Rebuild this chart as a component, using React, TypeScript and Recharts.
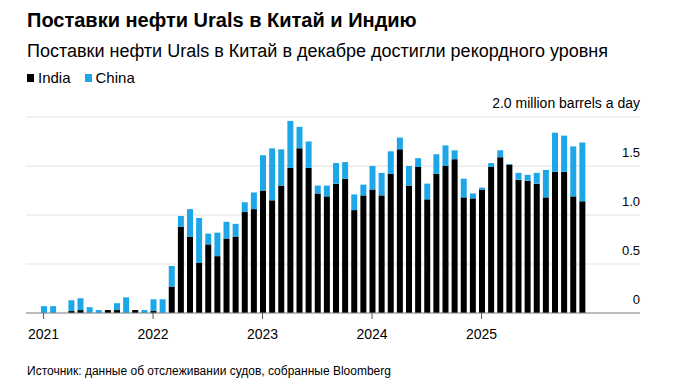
import { BarChart, Bar, XAxis, YAxis, CartesianGrid } from "recharts";

const months = [2021, 2022, 2023, 2024, 2025].flatMap((y) =>
  Array.from({ length: 12 }, (_, m) => `${y}-${String(m + 1).padStart(2, "0")}`)
);

// million barrels a day
const india = [
  0, 0, 0, 0.02, 0.03, 0, 0, 0.03, 0.03, 0, 0.03, 0,
  0.02, 0, 0.27, 0.88, 0.78, 0.51, 0.7, 0.58, 0.76, 0.78, 1.03, 1.06,
  1.25, 1.15, 1.3, 1.48, 1.68, 1.48, 1.22, 1.19, 1.32, 1.37, 1.05, 1.2,
  1.26, 1.2, 1.42, 1.67, 1.3, 1.49, 1.16, 1.42, 1.5, 1.57, 1.18, 1.17,
  1.26, 1.49, 1.59, 1.51, 1.36, 1.35, 1.32, 1.18, 1.44, 1.44, 1.19, 1.14,
];

const china = [
  0.07, 0.07, 0, 0.11, 0.12, 0.06, 0.03, 0, 0.07, 0.16, 0, 0.03,
  0.12, 0.14, 0.21, 0.11, 0.28, 0.46, 0.11, 0.24, 0.17, 0.13, 0.1, 0.17,
  0.36, 0.53, 0.37, 0.48, 0.22, 0.27, 0.08, 0.11, 0.21, 0.17, 0.16, 0.11,
  0.24, 0.23, 0.23, 0.12, 0.2, 0.09, 0.16, 0.2, 0.21, 0.09, 0.19, 0.05,
  0.02, 0.04, 0.07, 0.01, 0.07, 0.06, 0.11, 0.28, 0.4, 0.37, 0.51, 0.6,
];

const yTicks = [0, 0.5, 1, 1.5, 2];

const data = months.map((m, i) => ({ month: m, india: india[i], china: china[i] }));

const FONT = '"Liberation Sans", Arial, sans-serif';
const BLUE = "#1ea7e8";
const W = 689;
const H = 381;
const margin = { top: 117, right: 48, bottom: 38, left: 26 };
const X_AXIS_H = 30;
const Y_AXIS_W = 1;
const plotRight = W - margin.right - Y_AXIS_W;
const plotBottom = H - margin.bottom - X_AXIS_H;

const YearTick = (p: any) => {
  const v: string = p.payload.value;
  if (!v.endsWith("-01")) return <g />;
  return (
    <g>
      <line x1={p.x} x2={p.x} y1={plotBottom} y2={plotBottom + 6} stroke="#555" />
      <text x={p.x} y={plotBottom + 26} textAnchor="middle" fontSize={14} fill="#000" fontFamily={FONT}>
        {v.slice(0, 4)}
      </text>
    </g>
  );
};

const ValueTick = (p: any) => {
  const v: number = p.payload.value;
  const label = v === 2 ? "2.0 million barrels a day" : v === 0 ? "0" : v.toFixed(1);
  return (
    <text x={plotRight} y={p.y - 9} textAnchor="end" fontSize={v === 2 ? 14 : 13} fill="#000" fontFamily={FONT}>
      {label}
    </text>
  );
};

const LegendItem = ({ color, text }: { color: string; text: string }) => (
  <span style={{ display: "inline-flex", alignItems: "center", marginRight: 14 }}>
    <span style={{ width: 7, height: 8, background: color, display: "inline-block", marginRight: 4 }} />
    {text}
  </span>
);

export default function App() {
  return (
    <div style={{ position: "relative", width: W, height: H, background: "#fff", fontFamily: FONT, color: "#000" }}>
      <style>{`body{margin:0}`}</style>
      <div style={{ position: "absolute", left: 27, top: 10, fontSize: 20, lineHeight: "20px", fontWeight: 700 }}>
        Поставки нефти Urals в Китай и Индию
      </div>
      <div style={{ position: "absolute", left: 27, top: 42, fontSize: 18, lineHeight: "18px" }}>
        Поставки нефти Urals в Китай в декабре достигли рекордного уровня
      </div>
      <div style={{ position: "absolute", left: 27, top: 70, fontSize: 15, lineHeight: "15px", display: "flex" }}>
        <LegendItem color="#000" text="India" />
        <LegendItem color={BLUE} text="China" />
      </div>
      <div style={{ position: "absolute", left: 0, top: 0 }}>
        <BarChart width={W} height={H} data={data} margin={margin} barSize={6}>
          <CartesianGrid horizontal vertical={false} stroke="#e2e2e2" />
          <XAxis
            dataKey="month"
            height={X_AXIS_H}
            interval={0}
            padding={{ left: 13, right: 53.5 }}
            tick={<YearTick />}
            tickLine={false}
            axisLine={{ stroke: "#888" }}
          />
          <YAxis
            orientation="right"
            width={Y_AXIS_W}
            domain={[0, 2]}
            ticks={yTicks}
            interval={0}
            tick={<ValueTick />}
            tickLine={false}
            axisLine={false}
          />
          <Bar dataKey="india" stackId="a" fill="#000" isAnimationActive={false} />
          <Bar dataKey="china" stackId="a" fill={BLUE} isAnimationActive={false} />
        </BarChart>
      </div>
      <div style={{ position: "absolute", left: 27, top: 365, fontSize: 12, lineHeight: "12px" }}>
        Источник: данные об отслеживании судов, собранные Bloomberg
      </div>
    </div>
  );
}
